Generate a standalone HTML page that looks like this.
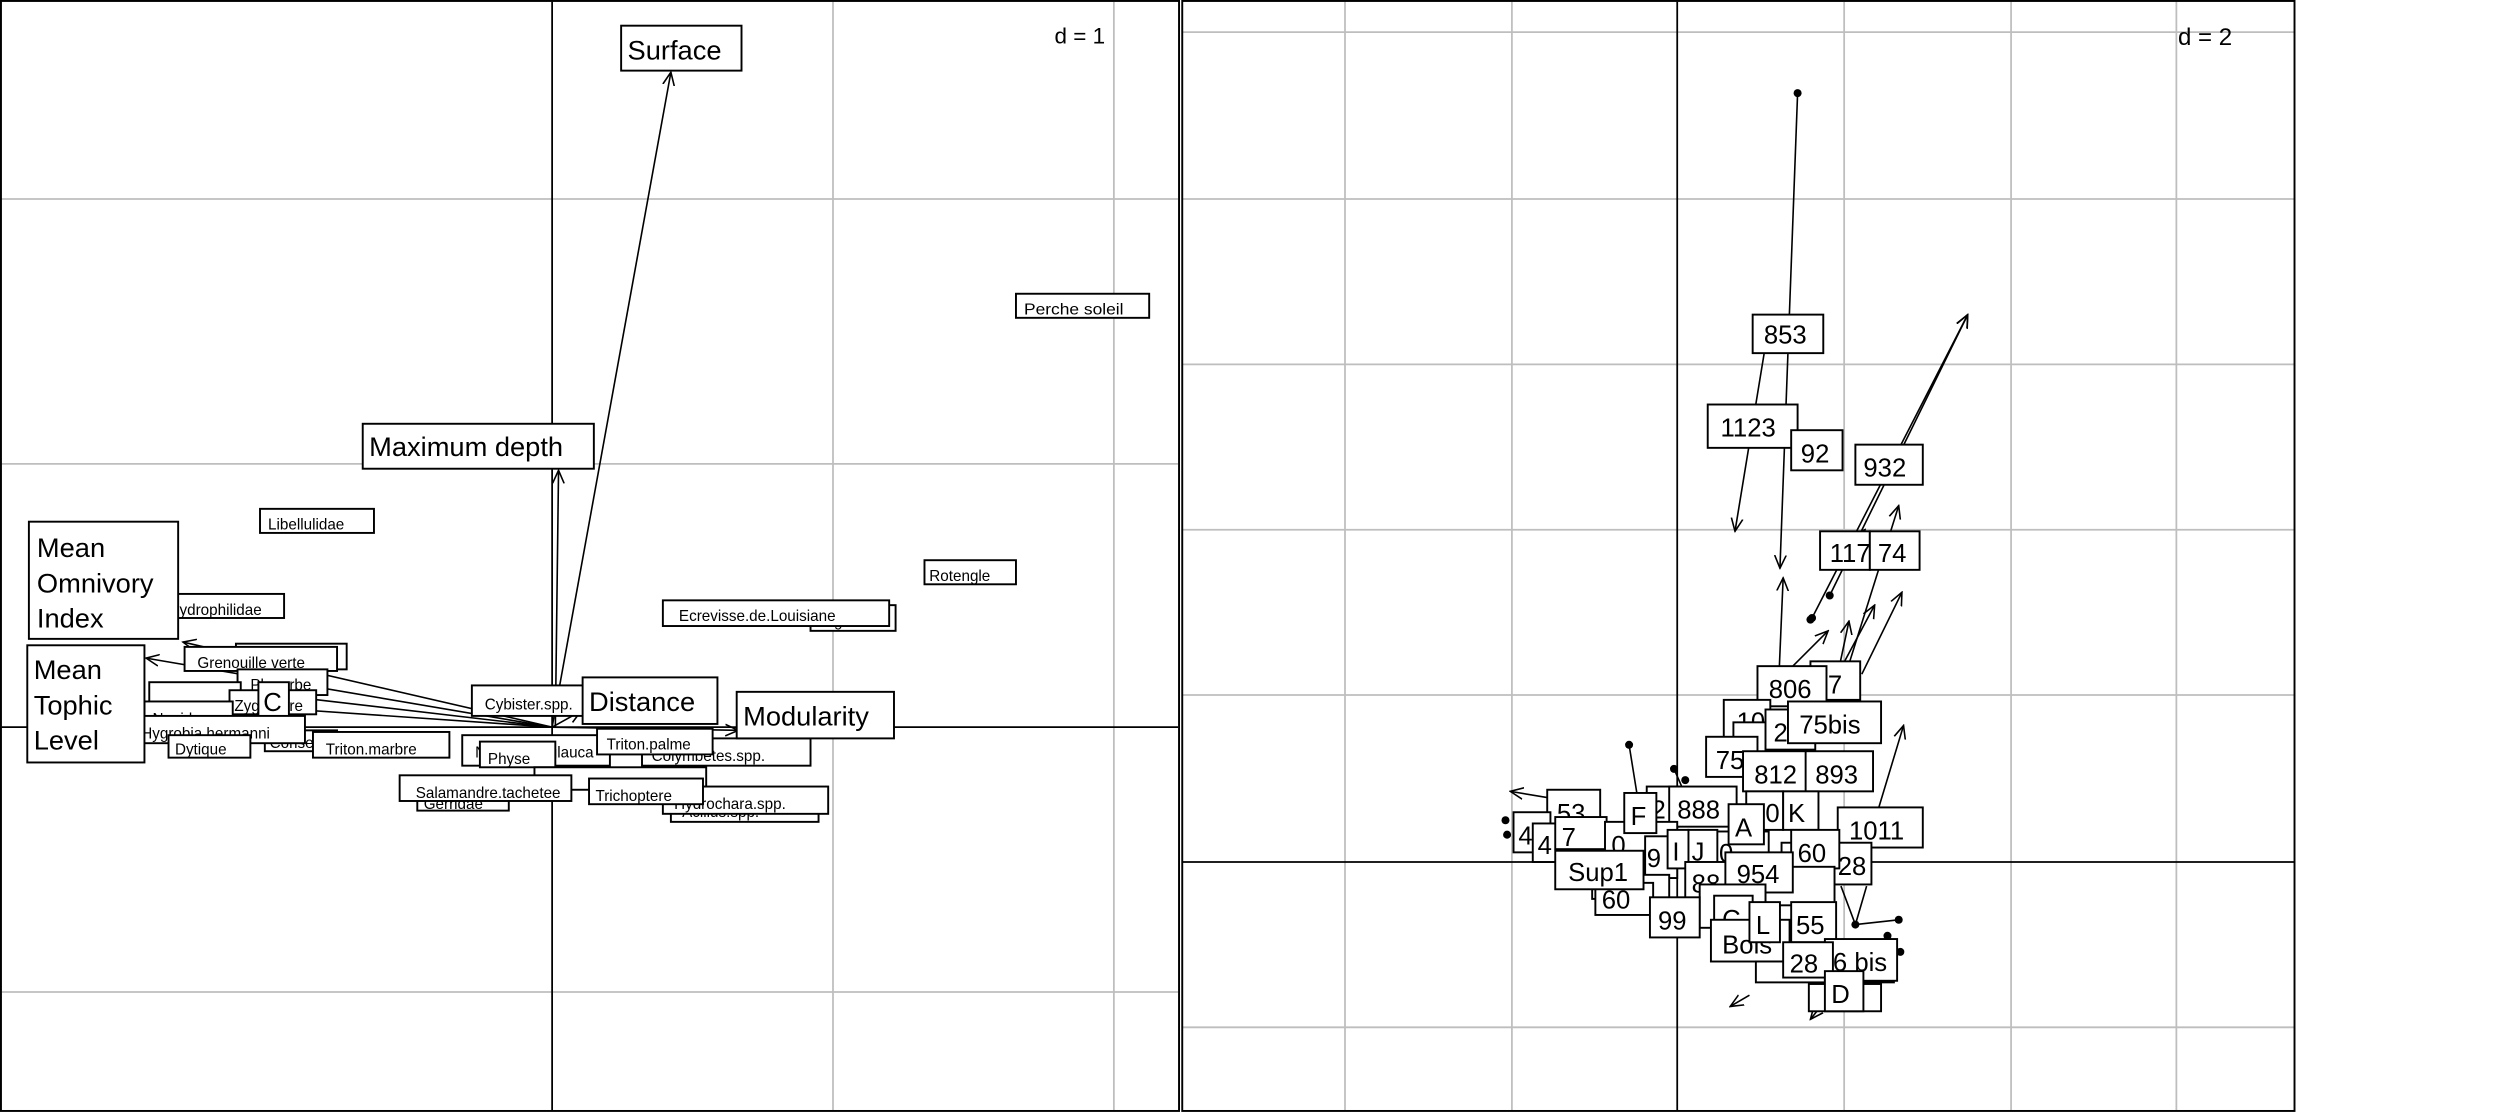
<!DOCTYPE html>
<html><head><meta charset="utf-8"><style>
html,body{margin:0;padding:0;background:#fff;}
svg{display:block;}
text{font-family:"Liberation Sans",Arial,sans-serif;fill:#000;}
.g{stroke:#bebebe;stroke-width:1.1;}
.ax{stroke:#000;stroke-width:1.1;}
.b{fill:#fff;stroke:#000;stroke-width:1.2;}
.a{stroke:#000;stroke-width:1;fill:none;}
.s{font-size:9.5px;}
.L{font-size:17px;}
.R{font-size:16px;}
</style></head><body>
<svg width="2516" height="1114" viewBox="0 0 1567.6 694" preserveAspectRatio="none" xmlns="http://www.w3.org/2000/svg">
<defs>
<marker id="m" viewBox="0 0 10 10" refX="9" refY="5" markerWidth="9" markerHeight="9" orient="auto" markerUnits="userSpaceOnUse">
<path d="M0,1 L9,5 L0,9" fill="none" stroke="#000" stroke-width="1.1"/></marker>
</defs>
<rect width="1567.6" height="694" fill="#fff"/>
<!-- LEFT PANEL -->
<g>
<line class="g" x1="1" y1="124" x2="734" y2="124"/>
<line class="g" x1="1" y1="289" x2="734" y2="289"/>
<line class="g" x1="1" y1="618" x2="734" y2="618"/>
<line class="g" x1="519" y1="1" x2="519" y2="692"/>
<line class="g" x1="694" y1="1" x2="694" y2="692"/>
<line class="ax" x1="1" y1="453" x2="734" y2="453"/>
<line class="ax" x1="344" y1="1" x2="344" y2="692"/>
<text x="657" y="27" style="font-size:14px">d = 1</text>
<line class="a" x1="344" y1="453" x2="418" y2="45" marker-end="url(#m)"/>
<line class="a" x1="346" y1="453" x2="348" y2="293" marker-end="url(#m)"/>
<line class="a" x1="344" y1="453" x2="114" y2="400" marker-end="url(#m)"/>
<line class="a" x1="344" y1="453" x2="91" y2="410" marker-end="url(#m)"/>
<line class="a" x1="344" y1="453" x2="97" y2="436" marker-end="url(#m)"/>
<line class="a" x1="344" y1="453" x2="181" y2="434" marker-end="url(#m)"/>
<line class="a" x1="344" y1="453" x2="362" y2="443" marker-end="url(#m)"/>
<line class="a" x1="344" y1="453" x2="460" y2="455" marker-end="url(#m)"/>
<rect class="b" x="633" y="183" width="83" height="15"/><text class="s" x="638" y="196" textLength="62" lengthAdjust="spacingAndGlyphs">Perche soleil</text>
<rect class="b" x="162" y="317" width="71" height="15"/><text class="s" x="167" y="330">Libellulidae</text>
<rect class="b" x="100" y="370" width="77" height="15"/><text class="s" x="105" y="383">Hydrophilidae</text>
<rect class="b" x="576" y="349" width="57" height="15"/><text class="s" x="579" y="362">Rotengle</text>
<rect class="b" x="505" y="377" width="53" height="16"/><text class="s" x="508" y="390">Anguille</text>
<rect class="b" x="413" y="374" width="141" height="16"/><text class="s" x="423" y="387">Ecrevisse.de.Louisiane</text>
<rect class="b" x="147" y="401" width="69" height="16"/>
<rect class="b" x="115" y="403" width="95" height="15"/><text class="s" x="123" y="416">Grenouille verte</text>
<rect class="b" x="148" y="417" width="56" height="16"/><text class="s" x="156" y="430">Planorbe</text>
<rect class="b" x="93" y="425" width="57" height="15"/>
<rect class="b" x="143" y="430" width="54" height="15"/><text class="s" x="146" y="443">Zygoptere</text>
<rect class="b" x="161" y="425" width="19" height="22"/><text class="R" x="164" y="443">C</text>
<rect class="b" x="294" y="427" width="76" height="19"/><text class="s" x="302" y="442">Cybister.spp.</text>
<rect class="b" x="90" y="437" width="55" height="16"/><text class="s" x="95" y="451">Nepidae</text>
<rect class="b" x="165" y="455" width="45" height="13"/><text class="s" x="168" y="466">Corise</text>
<rect class="b" x="84" y="446" width="106" height="17"/><text class="s" x="88" y="460">Hygrobia.hermanni</text>
<rect class="b" x="105" y="458" width="51" height="14"/><text class="s" x="109" y="470">Dytique</text>
<rect class="b" x="195" y="456" width="85" height="16"/><text class="s" x="203" y="470">Triton.marbre</text>
<rect class="b" x="288" y="458" width="92" height="19"/><text class="s" x="296" y="472">Notonecta.glauca</text>
<rect class="b" x="400" y="460" width="105" height="17"/><text class="s" x="406" y="474">Colymbetes.spp.</text>
<rect class="b" x="372" y="454" width="72" height="16"/><text class="s" x="378" y="467">Triton.palme</text>
<rect class="b" x="299" y="462" width="47" height="16"/><text class="s" x="304" y="476">Physe</text>
<rect class="b" x="333" y="478" width="107" height="14"/>
<rect class="b" x="418" y="497" width="92" height="15"/><text class="s" x="425" y="509">Acilius.spp.</text>
<rect class="b" x="413" y="490" width="103" height="17"/><text class="s" x="420" y="504">Hydrochara.spp.</text>
<rect class="b" x="260" y="494" width="57" height="11"/><text class="s" x="264" y="504">Gerridae</text>
<rect class="b" x="249" y="483" width="107" height="16"/><text class="s" x="259" y="497">Salamandre.tachetee</text>
<rect class="b" x="367" y="485" width="71" height="16"/><text class="s" x="371" y="499">Trichoptere</text>
<rect class="b" x="387" y="16" width="75" height="28"/><text class="L" x="391" y="37">Surface</text>
<rect class="b" x="226" y="264" width="144" height="28"/><text class="L" x="230" y="284">Maximum depth</text>
<rect class="b" x="18" y="325" width="93" height="73"/><text class="L" x="23" y="347">Mean</text><text class="L" x="23" y="369">Omnivory</text><text class="L" x="23" y="391">Index</text>
<rect class="b" x="17" y="402" width="73" height="73"/><text class="L" x="21" y="423">Mean</text><text class="L" x="21" y="445">Tophic</text><text class="L" x="21" y="467">Level</text>
<rect class="b" x="363" y="422" width="84" height="29"/><text class="L" x="367" y="443">Distance</text>
<rect class="b" x="459" y="431" width="98" height="29"/><text class="L" x="463" y="452">Modularity</text>
<rect x="0.6" y="0.6" width="734" height="691.5" fill="none" stroke="#000" stroke-width="1.2"/>
</g>
<!-- RIGHT PANEL -->
<g>
<line class="g" x1="737" y1="20" x2="1430" y2="20"/>
<line class="g" x1="737" y1="124" x2="1430" y2="124"/>
<line class="g" x1="737" y1="227" x2="1430" y2="227"/>
<line class="g" x1="737" y1="330" x2="1430" y2="330"/>
<line class="g" x1="737" y1="433" x2="1430" y2="433"/>
<line class="g" x1="737" y1="640" x2="1430" y2="640"/>
<line class="g" x1="838" y1="1" x2="838" y2="692"/>
<line class="g" x1="942" y1="1" x2="942" y2="692"/>
<line class="g" x1="1149" y1="1" x2="1149" y2="692"/>
<line class="g" x1="1253" y1="1" x2="1253" y2="692"/>
<line class="g" x1="1356" y1="1" x2="1356" y2="692"/>
<line class="ax" x1="737" y1="537" x2="1430" y2="537"/>
<line class="ax" x1="1045" y1="1" x2="1045" y2="692"/>
<text x="1357" y="28" style="font-size:15px">d = 2</text>
<line class="a" x1="1120" y1="58" x2="1109" y2="354" marker-end="url(#m)"/>
<line class="a" x1="1100" y1="215" x2="1081" y2="331" marker-end="url(#m)"/>
<line class="a" x1="1129" y1="385" x2="1226" y2="196" marker-end="url(#m)"/>
<line class="a" x1="1140" y1="371" x2="1226" y2="196" marker-end="url(#m)"/>
<line class="a" x1="1108" y1="430" x2="1111" y2="360" marker-end="url(#m)"/>
<line class="a" x1="1112" y1="420" x2="1139" y2="393" marker-end="url(#m)"/>
<line class="a" x1="1145" y1="420" x2="1152" y2="387" marker-end="url(#m)"/>
<line class="a" x1="1145" y1="420" x2="1168" y2="377" marker-end="url(#m)"/>
<line class="a" x1="1160" y1="420" x2="1185" y2="369" marker-end="url(#m)"/>
<line class="a" x1="1150" y1="420" x2="1183" y2="315" marker-end="url(#m)"/>
<line class="a" x1="1148" y1="345" x2="1162" y2="330" marker-end="url(#m)"/>
<line class="a" x1="1170" y1="505" x2="1186" y2="452" marker-end="url(#m)"/>
<line class="a" x1="965" y1="497" x2="941" y2="493" marker-end="url(#m)"/>
<line class="a" x1="1015" y1="464" x2="1020" y2="495"/>
<line class="a" x1="1043" y1="479" x2="1050" y2="495"/>
<line class="a" x1="1156" y1="576" x2="1147" y2="552"/>
<line class="a" x1="1156" y1="576" x2="1163" y2="552"/>
<line class="a" x1="1156" y1="576" x2="1183" y2="573"/>
<line class="a" x1="1140" y1="620" x2="1128" y2="635" marker-end="url(#m)"/>
<line class="a" x1="1090" y1="620" x2="1078" y2="627" marker-end="url(#m)"/>
<g fill="#000">
<circle cx="1120" cy="58" r="2.5"/><circle cx="1129" cy="385" r="2.5"/><circle cx="1140" cy="371" r="2.5"/>
<circle cx="1015" cy="464" r="2.5"/><circle cx="1043" cy="479" r="2.5"/><circle cx="1050" cy="486" r="2.5"/>
<circle cx="1128" cy="386" r="2.5"/><circle cx="938" cy="511" r="2.5"/><circle cx="939" cy="520" r="2.5"/>
<circle cx="1156" cy="576" r="2.5"/><circle cx="1183" cy="573" r="2.5"/><circle cx="1184" cy="593" r="2.5"/><circle cx="1176" cy="583" r="2.5"/>
</g>
<rect class="b" x="1092" y="196" width="44" height="24"/><text class="R" x="1099" y="214">853</text>
<rect class="b" x="1064" y="252" width="56" height="27"/><text class="R" x="1072" y="272">1123</text>
<rect class="b" x="1116" y="268" width="32" height="25"/><text class="R" x="1122" y="288">92</text>
<rect class="b" x="1156" y="277" width="42" height="25"/><text class="R" x="1161" y="297">932</text>
<rect class="b" x="1134" y="331" width="31" height="24"/><text class="R" x="1140" y="350">117</text>
<rect class="b" x="1165" y="331" width="31" height="24"/><text class="R" x="1170" y="350">74</text>
<rect class="b" x="1128" y="412" width="31" height="24"/><text class="R" x="1130" y="432">47</text>
<rect class="b" x="1095" y="415" width="43" height="25"/><text class="R" x="1102" y="435">806</text>
<rect class="b" x="1074" y="436" width="29" height="25"/><text class="R" x="1082" y="455">10</text>
<rect class="b" x="1080" y="450" width="40" height="20"/>
<rect class="b" x="1100" y="442" width="31" height="25"/><text class="R" x="1105" y="462">2</text>
<rect class="b" x="1114" y="437" width="58" height="26"/><text class="R" x="1121" y="457">75bis</text>
<rect class="b" x="1063" y="459" width="32" height="25"/><text class="R" x="1069" y="479">75</text>
<rect class="b" x="1124" y="468" width="43" height="25"/><text class="R" x="1131" y="488">893</text>
<rect class="b" x="1086" y="468" width="39" height="25"/><text class="R" x="1093" y="488">812</text>
<rect class="b" x="1026" y="490" width="20" height="25"/><text class="R" x="1029" y="510">2</text>
<rect class="b" x="1040" y="490" width="42" height="25"/><text class="R" x="1045" y="510">888</text>
<rect class="b" x="1088" y="493" width="23" height="24"/><text class="R" x="1091" y="512">10</text>
<rect class="b" x="1111" y="493" width="22" height="24"/><text class="R" x="1114" y="512">K</text>
<rect class="b" x="964" y="492" width="33" height="25"/><text class="R" x="970" y="512">53</text>
<rect class="b" x="943" y="506" width="23" height="25"/><text class="R" x="946" y="526">4</text>
<rect class="b" x="955" y="513" width="25" height="24"/><text class="R" x="958" y="532">4</text>
<rect class="b" x="969" y="509" width="32" height="20"/><text class="R" x="973" y="527">7</text>
<rect class="b" x="1000" y="512" width="45" height="25"/><text class="R" x="1004" y="532">0</text>
<rect class="b" x="1012" y="494" width="20" height="25"/><text class="R" x="1016" y="514">F</text>
<rect class="b" x="1145" y="503" width="53" height="25"/><text class="R" x="1152" y="523">1011</text>
<rect class="b" x="1062" y="518" width="40" height="25"/><text class="R" x="1071" y="537">0</text>
<rect class="b" x="1077" y="501" width="22" height="25"/><text class="R" x="1081" y="521">A</text>
<rect class="b" x="1110" y="525" width="18" height="25"/><text class="R" x="1112" y="544">4</text>
<rect class="b" x="1143" y="525" width="23" height="26"/><text class="R" x="1145" y="545">28</text>
<rect class="b" x="1116" y="517" width="30" height="24"/><text class="R" x="1120" y="537">60</text>
<rect class="b" x="1025" y="521" width="20" height="26"/><text class="R" x="1026" y="540">9</text>
<rect class="b" x="1039" y="517" width="13" height="24"/><text class="R" x="1042" y="536">I</text>
<rect class="b" x="1052" y="517" width="18" height="24"/><text class="R" x="1054" y="536">J</text>
<rect class="b" x="992" y="545" width="48" height="15"/>
<rect class="b" x="994" y="550" width="36" height="20"/><text class="R" x="998" y="566">60</text>
<rect class="b" x="969" y="530" width="55" height="24"/><text class="R" x="977" y="549">Sup1</text>
<rect class="b" x="1050" y="537" width="32" height="24"/><text class="R" x="1054" y="556">88</text>
<rect class="b" x="1100" y="540" width="43" height="24"/>
<rect class="b" x="1075" y="531" width="42" height="25"/><text class="R" x="1082" y="550">954</text>
<rect class="b" x="1059" y="551" width="41" height="27"/><text class="R" x="1080" y="570">is</text>
<rect class="b" x="1028" y="559" width="31" height="25"/><text class="R" x="1033" y="579">99</text>
<rect class="b" x="1068" y="558" width="24" height="25"/><text class="R" x="1073" y="578">C</text>
<rect class="b" x="1116" y="562" width="28" height="25"/><text class="R" x="1119" y="582">55</text>
<rect class="b" x="1066" y="573" width="49" height="26"/><text class="R" x="1073" y="594">Bois</text>
<rect class="b" x="1090" y="562" width="19" height="25"/><text class="R" x="1094" y="582">L</text>
<rect class="b" x="1094" y="599" width="86" height="13"/>
<rect class="b" x="1137" y="585" width="45" height="26"/><text class="R" x="1142" y="605">6 bis</text>
<rect class="b" x="1111" y="587" width="31" height="22"/><text class="R" x="1115" y="606">28</text>
<rect class="b" x="1127" y="613" width="45" height="17"/>
<rect class="b" x="1137" y="605" width="24" height="25"/><text class="R" x="1141" y="625">D</text>
<rect x="736.6" y="0.6" width="693" height="691.5" fill="none" stroke="#000" stroke-width="1.2"/>
</g>
</svg>
</body></html>
